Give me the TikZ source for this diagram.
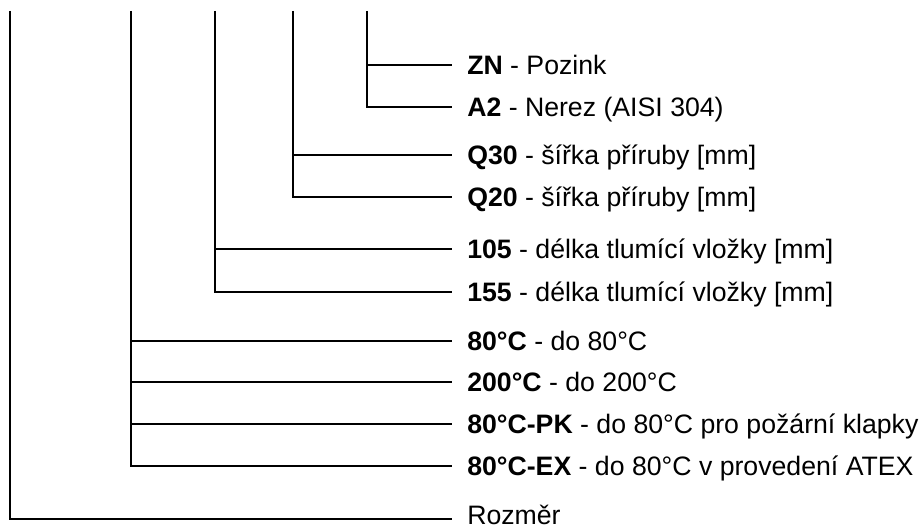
\documentclass[tikz,border=0pt]{standalone}
\usepackage{fontspec}
\setmainfont{Liberation Sans}
\begin{document}
\begin{tikzpicture}[x=0.75pt,y=-0.75pt,
  lbl/.style={anchor=west,inner sep=0pt,font=\fontsize{20}{24}\selectfont,text height=13.6pt,text depth=0pt},
  wire/.style={line width=1.5pt,black},
  gap/.style={xshift=-11.25pt}]
\useasboundingbox (0,0) rectangle (920,528);
% top ends of the vertical lines
\coordinate (t1) at (10,11);
\coordinate (t2) at (131,11);
\coordinate (t3) at (215,11);
\coordinate (t4) at (293,11);
\coordinate (t5) at (367,11);
% labels
\node[lbl] (zn)   at (467,65)  {\textbf{ZN} - Pozink};
\node[lbl] (a2)   at (467,107) {\textbf{A2} - Nerez (AISI 304)};
\node[lbl] (q30)  at (467,155) {\textbf{Q30} - šířka příruby [mm]};
\node[lbl] (q20)  at (467,197) {\textbf{Q20} - šířka příruby [mm]};
\node[lbl] (l105) at (467,249) {\textbf{105} - délka tlumící vložky [mm]};
\node[lbl] (l155) at (467,292) {\textbf{155} - délka tlumící vložky [mm]};
\node[lbl] (c80)  at (467,341) {\textbf{80°C} - do 80°C};
\node[lbl] (c200) at (467,382) {\textbf{200°C} - do 200°C};
\node[lbl] (cpk)  at (467,424) {\textbf{80°C-PK} - do 80°C pro požární klapky};
\node[lbl] (cex)  at (467,466) {\textbf{80°C-EX} - do 80°C v provedení ATEX};
\node[lbl] (roz)  at (467,515) {Rozměr};
% connectors
\draw[wire] (t5) |- ([gap]a2.west);
\draw[wire] (t5 |- zn.west) -- ([gap]zn.west);
\draw[wire] (t4) |- ([gap]q20.west);
\draw[wire] (t4 |- q30.west) -- ([gap]q30.west);
\draw[wire] (t3) |- ([gap]l155.west);
\draw[wire] (t3 |- l105.west) -- ([gap]l105.west);
\draw[wire] (t2) |- ([gap]cex.west);
\draw[wire] (t2 |- c80.west) -- ([gap]c80.west);
\draw[wire] (t2 |- c200.west) -- ([gap]c200.west);
\draw[wire] (t2 |- cpk.west) -- ([gap]cpk.west);
\draw[wire] (t1) |- ([gap,yshift=-3pt]roz.west);
\end{tikzpicture}
\end{document}
